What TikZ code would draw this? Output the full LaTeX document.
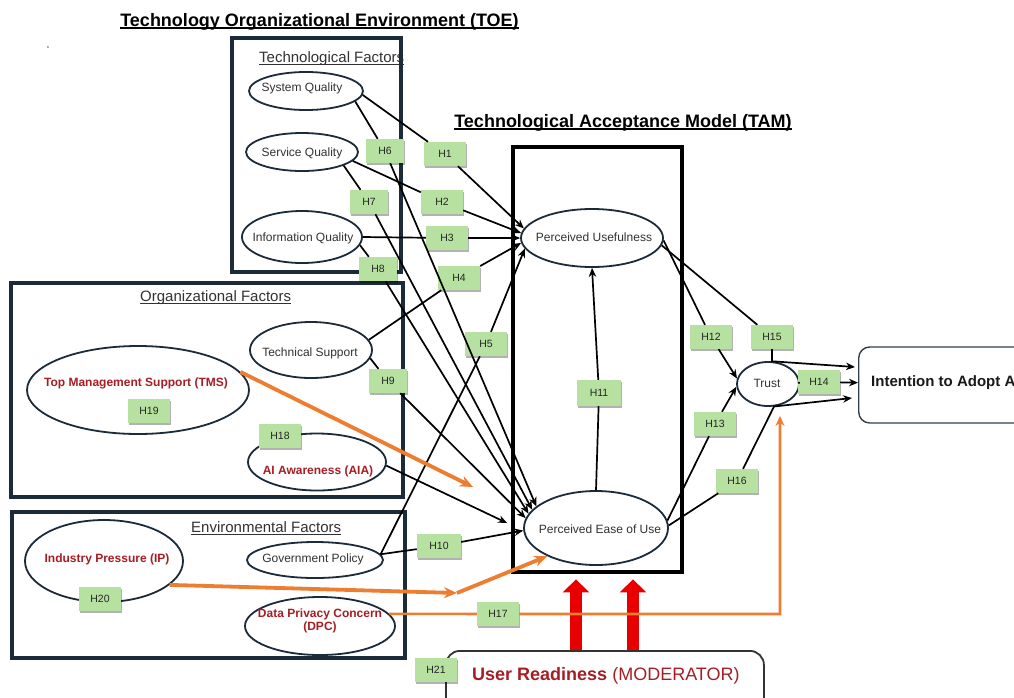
\documentclass[tikz,border=0pt]{standalone}
\usepackage{fontspec}
\setmainfont{Liberation Sans}
\usetikzlibrary{shapes.geometric,arrows.meta,shadows,calc}
\newcommand{\ulbar}[3]{\setbox0\hbox{#3}\rlap{\rule[-#2]{\wd0}{#1}}\box0}
\definecolor{navy}{RGB}{28,43,57}
\definecolor{hgreen}{RGB}{183,225,161}
\definecolor{dred}{RGB}{166,30,36}
\definecolor{orng}{RGB}{237,125,49}
\definecolor{rred}{RGB}{232,0,0}
\definecolor{txt}{RGB}{50,50,50}
\definecolor{ibord}{RGB}{50,64,75}
\tikzset{
 fbox/.style={draw=navy,line width=3.8pt},
 ell/.style={ellipse,draw=navy,line width=1.8pt,inner sep=0pt},
 etxt/.style={font=\fontsize{12}{14}\selectfont,text=txt,inner sep=0pt},
 rtxt/.style={font=\fontsize{12}{13}\selectfont\bfseries,text=dred,inner sep=0pt,align=center},
 hyp/.style={fill=hgreen,minimum width=42pt,minimum height=24pt,inner sep=0pt,font=\fontsize{10.5}{12}\selectfont,text=black!85,drop shadow={shadow xshift=1.2pt,shadow yshift=-1.6pt,fill=black,opacity=0.3}},
 conn/.style={line width=1.7pt,draw=black},
 arr/.style={conn,-{Stealth[length=9pt,width=7.5pt]}},
 oarr/.style={draw=orng,line width=3.8pt,-{Stealth[length=13pt,width=11pt]}},
 othin/.style={draw=orng,line width=2.6pt,-{Stealth[length=10pt,width=9pt]}},
 rarr/.style={draw=rred,line width=12pt,-{Triangle[length=13pt,width=26pt]}},
 ttl/.style={font=\fontsize{18}{20}\selectfont\bfseries,inner sep=0pt,anchor=base},
 subttl/.style={font=\fontsize{15}{17}\selectfont,text=txt,inner sep=0pt,anchor=base west},
}
\begin{document}
\begin{tikzpicture}[x=1pt,y=-1pt]
\useasboundingbox (0,0) rectangle (1014,697);
\clip (0,0) rectangle (1014,697);
\fill[white] (0,0) rectangle (1014,697);

% titles
\node[ttl] (toet) at (319.5,26) {\ulbar{1.6pt}{3pt}{Technology Organizational Environment (TOE)}};
\node[ttl] (tamt) at (623,127) {\ulbar{1.6pt}{3pt}{Technological Acceptance Model (TAM)}};
\node[font=\fontsize{9}{9}\selectfont,inner sep=0pt] (tick) at (48,49) {\symbol{96}};
\node[subttl] (techf) at (259,62) {\ulbar{1pt}{2.5pt}{Technological Factors}};
\node[subttl] (orgf) at (140,301) {\ulbar{1pt}{2.5pt}{Organizational Factors}};
\node[subttl] (envf) at (191,532) {\ulbar{1pt}{2.5pt}{Environmental Factors}};

% frames
\draw[fbox] (232,38) rectangle (401,272);
\draw[fbox] (11,283) rectangle (403,497);
\draw[fbox] (12,512) rectangle (405,658);
\node[draw=black,line width=4.8pt,minimum width=169pt,minimum height=425pt,inner sep=0pt] (tam) at (597.5,359.5) {};

% ellipses
\node[ell,minimum width=114pt,minimum height=38pt] (sysq) at (306,91) {};
\node[ell,minimum width=112pt,minimum height=38pt] (serq) at (302,152) {};
\node[ell,minimum width=120pt,minimum height=52pt] (infoq) at (302,237) {};
\node[ell,minimum width=122pt,minimum height=56pt] (techs) at (311,350) {};
\node[ell,minimum width=222pt,minimum height=88pt] (tms) at (138,390) {};
\node[ell,minimum width=138pt,minimum height=57pt] (aia) at (317,462) {};
\node[ell,minimum width=158pt,minimum height=82pt] (ip) at (104,561) {};
\node[ell,minimum width=136pt,minimum height=36pt] (govp) at (315,560) {};
\node[ell,minimum width=150pt,minimum height=58pt] (dpc) at (320,626) {};
\node[ell,minimum width=142pt,minimum height=58pt] (pu) at (592,238) {};
\node[ell,minimum width=144pt,minimum height=74pt] (peou) at (596,528) {};
\node[ell,minimum width=62pt,minimum height=44pt] (trust) at (768,384) {};

\node[etxt] (sysqt) at (302,88) {System Quality};
\node[etxt] (serqt) at (302,153) {Service Quality};
\node[etxt] (infoqt) at (303,238) {Information Quality};
\node[etxt] (techst) at (310,353) {Technical Support};
\node[rtxt] (tmst) at (136,383) {Top Management Support (TMS)};
\node[rtxt] (aiat) at (318,471) {AI Awareness (AIA)};
\node[rtxt] (ipt) at (107,559) {Industry Pressure (IP)};
\node[etxt] (govpt) at (313,559) {Government Policy};
\node[rtxt] (dpct) at (320,621) {Data Privacy Concern\\(DPC)};
\node[etxt] (put) at (594,237) {Perceived Usefulness};
\node[etxt] (peout) at (600,529) {Perceived Ease of Use};
\node[etxt] (trustt) at (767,383) {Trust};

% outcome and moderator
\node[draw=ibord,line width=1.4pt,rounded corners=11pt,minimum width=260pt,minimum height=76pt,anchor=west,inner sep=0pt] (intent) at (858,385) {};
\node[font=\fontsize{15}{17}\selectfont\bfseries,anchor=west,inner sep=0pt,text=black!90] (intentt) at (871,383) {Intention to Adopt AI};
\node[draw=black!80,line width=1.8pt,rounded corners=14pt,minimum width=318pt,minimum height=80pt,anchor=north west,inner sep=0pt] (ur) at (445,650) {};
\node[anchor=base west,inner sep=0pt,font=\fontsize{18}{20}\selectfont,text=dred] (urt) at (472,680) {\textbf{User Readiness} (MODERATOR)};

% hypothesis boxes
\node[hyp] (h1) at (445,154) {H1};
\node[hyp] (h2) at (442,202) {H2};
\node[hyp] (h3) at (447,238) {H3};
\node[hyp] (h4) at (459,278) {H4};
\node[hyp] (h5) at (486,344) {H5};
\node[hyp,minimum width=38pt] (h6) at (385,151) {H6};
\node[hyp,minimum width=38pt] (h7) at (369,202) {H7};
\node[hyp,minimum width=38pt] (h8) at (378,269) {H8};
\node[hyp,minimum width=38pt] (h9) at (388,381) {H9};
\node[hyp,minimum width=44pt] (h10) at (439,546) {H10};
\node[hyp,minimum width=44pt,minimum height=26pt] (h11) at (599,393) {H11};
\node[hyp] (h12) at (711,337) {H12};
\node[hyp] (h13) at (715,424) {H13};
\node[hyp] (h14) at (819,382) {H14};
\node[hyp] (h15) at (772,337) {H15};
\node[hyp] (h16) at (737,481) {H16};
\node[hyp] (h17) at (498,614) {H17};
\node[hyp] (h18) at (280,436) {H18};
\node[hyp] (h19) at (149,411) {H19};
\node[hyp] (h20) at (100,599) {H20};
\node[hyp] (h21) at (436,670) {H21};

% connectors to PU
\draw[arr] (sysq.-4) -- (h1) -- (pu.172);
\draw[arr] (serq.-10) -- (h2) -- (pu.176);
\draw[arr] (infoq.east) -- (h3) -- (pu.west);
\draw[arr] (techs.10) -- (h4) -- (pu.184);
\draw[arr] (govp.5) -- (h5) -- (pu.189);
% connectors to PEOU
\draw[arr] (sysq.-12) -- (h6) -- (peou.160);
\draw[arr] (serq.-18) -- (h7) -- (peou.164);
\draw[arr] (infoq.-8) -- (h8) -- (peou.168);
\draw[arr] (techs.-8) -- (h9) -- (peou.172);
\draw[arr] (aia.-3) -- ($(peou.west)+(-16,-5)$);
\draw[arr] (govp.5) -- (h10) -- (peou.182);
\draw[arr] (peou.north) -- (h11) -- (pu.south);
% to trust and intention
\draw[arr] (pu.-2) -- (h12) -- (trust.170);
\draw[arr] (pu.-6) -- (h15) -- (trust.80) -- ($(intent.west)+(-3,-18)$);
\draw[arr] (peou.6) -- (h13) -- (trust.185);
\draw[arr] (peou.2) -- (h16) -- (trust.-75) -- ($(intent.west)+(-6,13)$);
\draw[arr] (trust) -- (h14) -- (intent);

% moderator arrows
\draw[rarr] (576,0 |- ur.north) -- ($(576,0 |- tam.south)+(0,5)$);
\draw[rarr] (633,0 |- ur.north) -- ($(633,0 |- tam.south)+(0,5)$);

% orange paths
\coordinate (tmsend) at (473,487);
\coordinate (ipmid) at (457,593);
\coordinate (dcorner) at (780,614);
\draw[oarr] (tms.10) -- (tmsend);
\draw[oarr] (ip.-20) -- (ipmid);
\draw[oarr] (ipmid) -- (peou.210);
\draw[othin] (dpc.10) -- (h17) -- (dcorner) -- ($(trust.south)+(12,9)$);
\end{tikzpicture}
\end{document}
